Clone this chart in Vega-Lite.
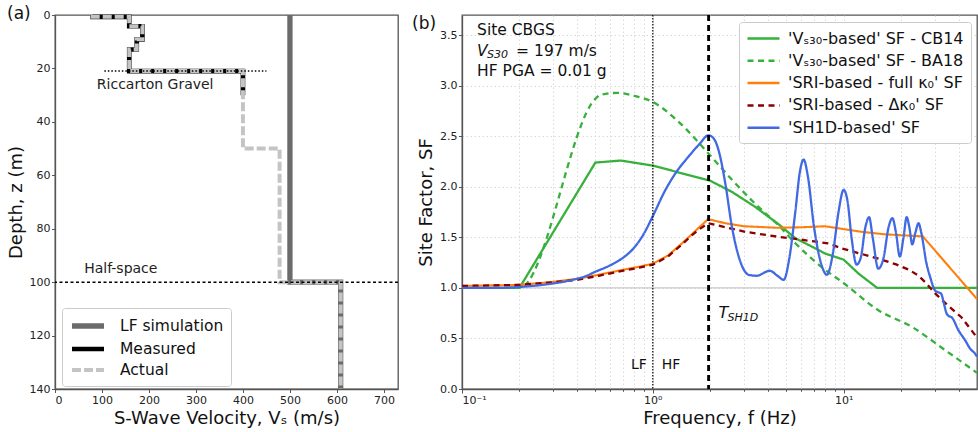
{
  "$schema": "https://vega.github.io/schema/vega-lite/v6.json",
  "padding": {"left": 6, "top": 3, "right": 0, "bottom": 0},
  "background": "white",
  "config": {
    "font": "DejaVu Sans",
    "view": {"stroke": "#555555", "strokeWidth": 1.3},
    "axis": {"domainColor": "#555555", "domainWidth": 1.3, "tickColor": "#555555", "tickWidth": 1, "tickSize": 3.5, "labelColor": "#222222", "labelFontSize": 11, "labelPadding": 1.5, "titleFontSize": 18, "titleFontWeight": "normal", "titleColor": "#111111", "grid": false},
    "title": {"fontSize": 17, "fontWeight": "normal", "anchor": "start", "frame": "group", "color": "#111111"},
    "legend": {"title": null, "orient": "none", "symbolType": "M-2,0H2", "symbolSize": 256, "symbolOffset": 8, "labelOffset": 21, "labelLimit": 400, "labelFontSize": 15.5, "labelColor": "#111111", "padding": 7, "rowPadding": 1.5, "strokeColor": "#cccccc", "fillColor": "#ffffff", "cornerRadius": 3}
  },
  "bounds": "flush",
  "spacing": 64,
  "resolve": {
    "scale": {"color": "independent", "strokeDash": "independent", "strokeWidth": "independent"},
    "legend": {"color": "independent", "strokeDash": "independent", "strokeWidth": "independent"}
  },
  "hconcat": [
    {
      "width": 343,
      "height": 374,
      "title": {"text": "(a)", "dx": -48, "offset": -19},
      "data": {"values": [
        {"s": "LF simulation", "vs": 500, "depth": 0, "i": 0},
        {"s": "LF simulation", "vs": 500, "depth": 100, "i": 1},
        {"s": "LF simulation", "vs": 608, "depth": 100, "i": 2},
        {"s": "LF simulation", "vs": 608, "depth": 140, "i": 3},
        {"s": "Measured", "vs": 80, "depth": 0, "i": 0},
        {"s": "Measured", "vs": 80, "depth": 0.7, "i": 1},
        {"s": "Measured", "vs": 158, "depth": 0.7, "i": 2},
        {"s": "Measured", "vs": 158, "depth": 4.2, "i": 3},
        {"s": "Measured", "vs": 186, "depth": 4.2, "i": 4},
        {"s": "Measured", "vs": 186, "depth": 9.1, "i": 5},
        {"s": "Measured", "vs": 174, "depth": 9.1, "i": 6},
        {"s": "Measured", "vs": 174, "depth": 12.9, "i": 7},
        {"s": "Measured", "vs": 158, "depth": 12.9, "i": 8},
        {"s": "Measured", "vs": 158, "depth": 21, "i": 9},
        {"s": "Measured", "vs": 400, "depth": 21, "i": 10},
        {"s": "Measured", "vs": 400, "depth": 30, "i": 11},
        {"s": "Actual", "vs": 80, "depth": 0, "i": 0},
        {"s": "Actual", "vs": 80, "depth": 0.7, "i": 1},
        {"s": "Actual", "vs": 158, "depth": 0.7, "i": 2},
        {"s": "Actual", "vs": 158, "depth": 4.2, "i": 3},
        {"s": "Actual", "vs": 186, "depth": 4.2, "i": 4},
        {"s": "Actual", "vs": 186, "depth": 9.1, "i": 5},
        {"s": "Actual", "vs": 174, "depth": 9.1, "i": 6},
        {"s": "Actual", "vs": 174, "depth": 12.9, "i": 7},
        {"s": "Actual", "vs": 158, "depth": 12.9, "i": 8},
        {"s": "Actual", "vs": 158, "depth": 21, "i": 9},
        {"s": "Actual", "vs": 400, "depth": 21, "i": 10},
        {"s": "Actual", "vs": 400, "depth": 50, "i": 11},
        {"s": "Actual", "vs": 478, "depth": 50, "i": 12},
        {"s": "Actual", "vs": 478, "depth": 100, "i": 13},
        {"s": "Actual", "vs": 608, "depth": 100, "i": 14},
        {"s": "Actual", "vs": 608, "depth": 140, "i": 15}
      ]},
      "layer": [
        {
          "encoding": {
            "x": {"field": "vs", "type": "quantitative", "scale": {"domain": [0, 730], "nice": false, "zero": false},
                  "axis": {"title": "S-Wave Velocity, Vₛ (m/s)", "values": [0, 100, 200, 300, 400, 500, 600, 700], "titlePadding": 4}},
            "y": {"field": "depth", "type": "quantitative", "scale": {"domain": [0, 140], "reverse": true, "nice": false},
                  "axis": {"title": "Depth, z (m)", "values": [0, 20, 40, 60, 80, 100, 120, 140], "titlePadding": 4}},
            "order": {"field": "i"},
            "color": {"field": "s", "type": "nominal",
                      "scale": {"domain": ["LF simulation", "Measured", "Actual"], "range": ["#6b6b6b", "#000000", "#c4c4c4"]},
                      "legend": {"legendX": 7, "legendY": 293}},
            "strokeDash": {"field": "s", "type": "nominal",
                      "scale": {"domain": ["LF simulation", "Measured", "Actual"], "range": [[1, 0], [1, 0], [9, 3]]},
                      "legend": {"legendX": 7, "legendY": 293}},
            "strokeWidth": {"field": "s", "type": "ordinal",
                      "scale": {"domain": ["LF simulation", "Measured", "Actual"], "range": [5.3, 4, 3.5]},
                      "legend": {"legendX": 7, "legendY": 293}}
          },
          "layer": [
            {"transform": [{"filter": "datum.s === 'LF simulation'"}], "mark": {"type": "line", "strokeCap": "butt"}},
            {"transform": [{"filter": "datum.s === 'Measured'"}], "mark": {"type": "line", "strokeCap": "butt"}},
            {"transform": [{"filter": "datum.s === 'Actual'"}], "mark": {"type": "line", "strokeCap": "butt"}}
          ]
        },
        {"data": {"values": [{}]},
         "mark": {"type": "rule", "color": "#000000", "strokeWidth": 1.5, "strokeDash": [3, 2.5]},
         "encoding": {"y": {"datum": 100, "type": "quantitative"}}},
        {"data": {"values": [{}]},
         "mark": {"type": "rule", "color": "#000000", "strokeWidth": 1.5, "strokeDash": [1.5, 2]},
         "encoding": {"y": {"datum": 21, "type": "quantitative"}, "x": {"datum": 105, "type": "quantitative"}, "x2": {"datum": 450}}},
        {"mark": {"type": "text", "align": "left", "baseline": "middle", "fontSize": 14, "color": "#222222"},
         "data": {"values": [{"vs": 89, "depth": 26.3, "t": "Riccarton Gravel"}, {"vs": 62, "depth": 95, "t": "Half-space"}]},
         "encoding": {"x": {"field": "vs", "type": "quantitative"}, "y": {"field": "depth", "type": "quantitative"}, "text": {"field": "t"}}}
      ]
    },
    {
      "width": 515,
      "height": 374,
      "title": {"text": "(b)", "dx": -50, "offset": -19},
      "data": {"values": [
        {"m": "CB14", "f": 0.1, "sf": 1.0}, {"m": "CB14", "f": 0.2, "sf": 1.0}, {"m": "CB14", "f": 0.5, "sf": 2.24},
        {"m": "CB14", "f": 0.68, "sf": 2.26}, {"m": "CB14", "f": 1.0, "sf": 2.21}, {"m": "CB14", "f": 2.0, "sf": 2.06},
        {"m": "CB14", "f": 2.6, "sf": 1.95}, {"m": "CB14", "f": 3.45, "sf": 1.8}, {"m": "CB14", "f": 4.56, "sf": 1.63},
        {"m": "CB14", "f": 5.6, "sf": 1.49}, {"m": "CB14", "f": 6.8, "sf": 1.41}, {"m": "CB14", "f": 8.0, "sf": 1.34},
        {"m": "CB14", "f": 10, "sf": 1.28}, {"m": "CB14", "f": 12, "sf": 1.14}, {"m": "CB14", "f": 15, "sf": 1.0},
        {"m": "CB14", "f": 50, "sf": 1.0},
        {"m": "BA18", "f": 0.1, "sf": 1.0}, {"m": "BA18", "f": 0.2, "sf": 1.0}, {"m": "BA18", "f": 0.5, "sf": 2.87},
        {"m": "BA18", "f": 0.53, "sf": 2.91}, {"m": "BA18", "f": 0.66, "sf": 2.93}, {"m": "BA18", "f": 0.8, "sf": 2.9},
        {"m": "BA18", "f": 1.0, "sf": 2.84}, {"m": "BA18", "f": 1.37, "sf": 2.64}, {"m": "BA18", "f": 2.0, "sf": 2.31},
        {"m": "BA18", "f": 2.6, "sf": 2.07}, {"m": "BA18", "f": 3.45, "sf": 1.83}, {"m": "BA18", "f": 4.5, "sf": 1.63},
        {"m": "BA18", "f": 5.6, "sf": 1.44}, {"m": "BA18", "f": 8.0, "sf": 1.18}, {"m": "BA18", "f": 9.8, "sf": 1.06},
        {"m": "BA18", "f": 15.2, "sf": 0.78}, {"m": "BA18", "f": 23, "sf": 0.61}, {"m": "BA18", "f": 34, "sf": 0.385},
        {"m": "BA18", "f": 50, "sf": 0.16},
        {"m": "SRIf", "f": 0.1, "sf": 1.02}, {"m": "SRIf", "f": 0.2, "sf": 1.03}, {"m": "SRIf", "f": 0.3, "sf": 1.06},
        {"m": "SRIf", "f": 0.4, "sf": 1.09}, {"m": "SRIf", "f": 0.52, "sf": 1.13}, {"m": "SRIf", "f": 0.7, "sf": 1.18},
        {"m": "SRIf", "f": 0.85, "sf": 1.21}, {"m": "SRIf", "f": 1.0, "sf": 1.24}, {"m": "SRIf", "f": 1.2, "sf": 1.32},
        {"m": "SRIf", "f": 1.42, "sf": 1.44}, {"m": "SRIf", "f": 1.6, "sf": 1.53}, {"m": "SRIf", "f": 1.75, "sf": 1.6},
        {"m": "SRIf", "f": 1.95, "sf": 1.68}, {"m": "SRIf", "f": 2.4, "sf": 1.64}, {"m": "SRIf", "f": 3.0, "sf": 1.61},
        {"m": "SRIf", "f": 4.5, "sf": 1.595}, {"m": "SRIf", "f": 6, "sf": 1.6}, {"m": "SRIf", "f": 8, "sf": 1.61},
        {"m": "SRIf", "f": 12.4, "sf": 1.555}, {"m": "SRIf", "f": 16.5, "sf": 1.53}, {"m": "SRIf", "f": 26, "sf": 1.51},
        {"m": "SRIf", "f": 50, "sf": 0.89},
        {"m": "SRId", "f": 0.1, "sf": 1.02}, {"m": "SRId", "f": 0.2, "sf": 1.03}, {"m": "SRId", "f": 0.3, "sf": 1.055},
        {"m": "SRId", "f": 0.4, "sf": 1.08}, {"m": "SRId", "f": 0.52, "sf": 1.12}, {"m": "SRId", "f": 0.7, "sf": 1.17},
        {"m": "SRId", "f": 0.85, "sf": 1.2}, {"m": "SRId", "f": 1.0, "sf": 1.23}, {"m": "SRId", "f": 1.2, "sf": 1.31},
        {"m": "SRId", "f": 1.42, "sf": 1.43}, {"m": "SRId", "f": 1.6, "sf": 1.52}, {"m": "SRId", "f": 1.75, "sf": 1.58},
        {"m": "SRId", "f": 1.95, "sf": 1.64}, {"m": "SRId", "f": 3.05, "sf": 1.555}, {"m": "SRId", "f": 4.57, "sf": 1.505},
        {"m": "SRId", "f": 5.35, "sf": 1.49}, {"m": "SRId", "f": 8.35, "sf": 1.44}, {"m": "SRId", "f": 9.8, "sf": 1.39},
        {"m": "SRId", "f": 15.2, "sf": 1.29}, {"m": "SRId", "f": 19, "sf": 1.23}, {"m": "SRId", "f": 22, "sf": 1.18},
        {"m": "SRId", "f": 24.7, "sf": 1.12}, {"m": "SRId", "f": 27, "sf": 1.05}, {"m": "SRId", "f": 30, "sf": 0.95},
        {"m": "SRId", "f": 35, "sf": 0.83}, {"m": "SRId", "f": 41.4, "sf": 0.71}, {"m": "SRId", "f": 50, "sf": 0.51},
        {"m": "SH1D", "f": 0.1, "sf": 1.0}, {"m": "SH1D", "f": 0.15, "sf": 1.0}, {"m": "SH1D", "f": 0.2, "sf": 1.01},
        {"m": "SH1D", "f": 0.25, "sf": 1.025}, {"m": "SH1D", "f": 0.3, "sf": 1.044}, {"m": "SH1D", "f": 0.35, "sf": 1.065},
        {"m": "SH1D", "f": 0.4, "sf": 1.09}, {"m": "SH1D", "f": 0.45, "sf": 1.12}, {"m": "SH1D", "f": 0.5, "sf": 1.16},
        {"m": "SH1D", "f": 0.6, "sf": 1.225}, {"m": "SH1D", "f": 0.7, "sf": 1.3}, {"m": "SH1D", "f": 0.8, "sf": 1.4},
        {"m": "SH1D", "f": 0.9, "sf": 1.54}, {"m": "SH1D", "f": 1.0, "sf": 1.71}, {"m": "SH1D", "f": 1.15, "sf": 1.95},
        {"m": "SH1D", "f": 1.31, "sf": 2.13}, {"m": "SH1D", "f": 1.54, "sf": 2.3}, {"m": "SH1D", "f": 1.75, "sf": 2.42},
        {"m": "SH1D", "f": 1.96, "sf": 2.51}, {"m": "SH1D", "f": 2.1, "sf": 2.47}, {"m": "SH1D", "f": 2.22, "sf": 2.35},
        {"m": "SH1D", "f": 2.4, "sf": 2.03}, {"m": "SH1D", "f": 2.6, "sf": 1.6}, {"m": "SH1D", "f": 2.82, "sf": 1.31},
        {"m": "SH1D", "f": 3.18, "sf": 1.13}, {"m": "SH1D", "f": 3.5, "sf": 1.12}, {"m": "SH1D", "f": 4.1, "sf": 1.17},
        {"m": "SH1D", "f": 4.5, "sf": 1.12}, {"m": "SH1D", "f": 4.85, "sf": 1.08}, {"m": "SH1D", "f": 5.2, "sf": 1.3},
        {"m": "SH1D", "f": 5.58, "sf": 1.75}, {"m": "SH1D", "f": 5.9, "sf": 2.15}, {"m": "SH1D", "f": 6.17, "sf": 2.27},
        {"m": "SH1D", "f": 6.5, "sf": 2.1}, {"m": "SH1D", "f": 7.0, "sf": 1.6}, {"m": "SH1D", "f": 7.6, "sf": 1.25},
        {"m": "SH1D", "f": 8.17, "sf": 1.13}, {"m": "SH1D", "f": 8.8, "sf": 1.35}, {"m": "SH1D", "f": 9.4, "sf": 1.75},
        {"m": "SH1D", "f": 10.0, "sf": 1.97}, {"m": "SH1D", "f": 10.5, "sf": 1.85}, {"m": "SH1D", "f": 11.0, "sf": 1.5},
        {"m": "SH1D", "f": 11.7, "sf": 1.23}, {"m": "SH1D", "f": 12.3, "sf": 1.3}, {"m": "SH1D", "f": 13.0, "sf": 1.6},
        {"m": "SH1D", "f": 13.6, "sf": 1.7}, {"m": "SH1D", "f": 14.2, "sf": 1.5}, {"m": "SH1D", "f": 15.2, "sf": 1.19},
        {"m": "SH1D", "f": 16.2, "sf": 1.3}, {"m": "SH1D", "f": 17.2, "sf": 1.6}, {"m": "SH1D", "f": 18.0, "sf": 1.69},
        {"m": "SH1D", "f": 18.8, "sf": 1.55}, {"m": "SH1D", "f": 19.7, "sf": 1.31}, {"m": "SH1D", "f": 20.6, "sf": 1.5},
        {"m": "SH1D", "f": 21.4, "sf": 1.7}, {"m": "SH1D", "f": 22.1, "sf": 1.6}, {"m": "SH1D", "f": 22.9, "sf": 1.43},
        {"m": "SH1D", "f": 23.8, "sf": 1.55}, {"m": "SH1D", "f": 24.7, "sf": 1.64}, {"m": "SH1D", "f": 25.5, "sf": 1.55},
        {"m": "SH1D", "f": 27.2, "sf": 1.24}, {"m": "SH1D", "f": 28.5, "sf": 1.1}, {"m": "SH1D", "f": 30, "sf": 0.98},
        {"m": "SH1D", "f": 31, "sf": 0.96}, {"m": "SH1D", "f": 32.4, "sf": 0.945}, {"m": "SH1D", "f": 33.5, "sf": 0.85},
        {"m": "SH1D", "f": 34.6, "sf": 0.75}, {"m": "SH1D", "f": 35.7, "sf": 0.72}, {"m": "SH1D", "f": 36.8, "sf": 0.71},
        {"m": "SH1D", "f": 40, "sf": 0.58}, {"m": "SH1D", "f": 43.4, "sf": 0.48}, {"m": "SH1D", "f": 46, "sf": 0.4},
        {"m": "SH1D", "f": 48.8, "sf": 0.35}, {"m": "SH1D", "f": 50, "sf": 0.32}
      ]},
      "layer": [
        {"data": {"values": [{}]},
         "mark": {"type": "rule", "color": "#c8c8c8", "strokeWidth": 1.2},
         "encoding": {"y": {"datum": 1, "type": "quantitative"}}},
        {
          "encoding": {
            "x": {"field": "f", "type": "quantitative", "scale": {"type": "log", "domain": [0.1, 50], "nice": false},
                  "axis": {"title": "Frequency, f (Hz)", "titlePadding": 4,
                           "values": [0.1, 0.2, 0.3, 0.4, 0.5, 0.6, 0.7, 0.8, 0.9, 1, 2, 3, 4, 5, 6, 7, 8, 9, 10, 20, 30, 40],
                           "labelOverlap": false,
                           "labelExpr": "abs(datum.value-0.1)<1e-6 ? '10⁻¹' : (abs(datum.value-1)<1e-6 ? '10⁰' : (abs(datum.value-10)<1e-6 ? '10¹' : ''))",
                           "tickSize": {"condition": {"test": "abs(datum.value-0.1)<1e-6 || abs(datum.value-1)<1e-6 || abs(datum.value-10)<1e-6", "value": 4}, "value": 2.3},
                           "grid": true, "gridColor": "#d0d0d0", "gridDash": [1.5, 2.5], "gridWidth": 0.8}},
            "y": {"field": "sf", "type": "quantitative", "scale": {"domain": [0, 3.7], "nice": false},
                  "axis": {"title": "Site Factor, SF", "titlePadding": 4, "values": [0, 0.5, 1, 1.5, 2, 2.5, 3, 3.5], "format": ".1f",
                           "grid": true, "gridColor": "#d0d0d0", "gridDash": [1.5, 2.5], "gridWidth": 0.8}},
            "color": {"field": "m", "type": "nominal",
                      "scale": {"domain": ["CB14", "BA18", "SRIf", "SRId", "SH1D"], "range": ["#37b03c", "#37b03c", "#ff7f0e", "#8b0000", "#4169e1"]},
                      "legend": {"legendX": 277, "legendY": 7, "symbolStrokeWidth": 2.5, "labelOffset": 15, "labelFontSize": 16, "rowPadding": 4.3,
                                 "labelExpr": "datum.label == 'CB14' ? \"'Vₛ₃₀-based' SF - CB14\" : (datum.label == 'BA18' ? \"'Vₛ₃₀-based' SF - BA18\" : (datum.label == 'SRIf' ? \"'SRI-based - full κ₀' SF\" : (datum.label == 'SRId' ? \"'SRI-based - Δκ₀' SF\" : \"'SH1D-based' SF\")))"}},
            "strokeDash": {"field": "m", "type": "nominal",
                      "scale": {"domain": ["CB14", "BA18", "SRIf", "SRId", "SH1D"], "range": [[1, 0], [6, 4.5], [1, 0], [6, 4.5], [1, 0]]},
                      "legend": {"legendX": 277, "legendY": 7, "symbolStrokeWidth": 2.5, "labelOffset": 15, "labelFontSize": 16, "rowPadding": 4.3,
                                 "labelExpr": "datum.label == 'CB14' ? \"'Vₛ₃₀-based' SF - CB14\" : (datum.label == 'BA18' ? \"'Vₛ₃₀-based' SF - BA18\" : (datum.label == 'SRIf' ? \"'SRI-based - full κ₀' SF\" : (datum.label == 'SRId' ? \"'SRI-based - Δκ₀' SF\" : \"'SH1D-based' SF\")))"}}
          },
          "layer": [
            {"transform": [{"filter": "datum.m === 'CB14'"}], "mark": {"type": "line", "strokeWidth": 2.3, "interpolate": "linear"}},
            {"transform": [{"filter": "datum.m === 'BA18'"}], "mark": {"type": "line", "strokeWidth": 2.3, "interpolate": "monotone"}},
            {"transform": [{"filter": "datum.m === 'SRIf'"}], "mark": {"type": "line", "strokeWidth": 2.1, "interpolate": "linear"}},
            {"transform": [{"filter": "datum.m === 'SRId'"}], "mark": {"type": "line", "strokeWidth": 2.3, "interpolate": "linear"}},
            {"transform": [{"filter": "datum.m === 'SH1D'"}], "mark": {"type": "line", "strokeWidth": 2.3, "interpolate": "monotone"}}
          ]
        },
        {"data": {"values": [{}]},
         "mark": {"type": "rule", "color": "#000000", "strokeWidth": 1.2, "strokeDash": [1.5, 1.5]},
         "encoding": {"x": {"datum": 1, "type": "quantitative"}}},
        {"data": {"values": [{}]},
         "mark": {"type": "rule", "color": "#000000", "strokeWidth": 2.8, "strokeDash": [6, 4]},
         "encoding": {"x": {"datum": 1.96, "type": "quantitative"}}},
        {"mark": {"type": "text", "align": "left", "baseline": "middle", "fontSize": 15.5, "color": "#111111"},
         "data": {"values": [{"f": 0.12, "sf": 3.55, "t": "Site CBGS"}, {"f": 0.12, "sf": 3.145, "t": "HF PGA = 0.01 g"}]},
         "encoding": {"x": {"field": "f", "type": "quantitative"}, "y": {"field": "sf", "type": "quantitative"}, "text": {"field": "t"}}},
        {"data": {"values": [{}]},
         "mark": {"type": "text", "align": "left", "baseline": "middle", "fontSize": 15.5, "fontStyle": "italic", "color": "#111111", "text": "V"},
         "encoding": {"x": {"datum": 0.12, "type": "quantitative"}, "y": {"datum": 3.345, "type": "quantitative"}}},
        {"data": {"values": [{}]},
         "mark": {"type": "text", "align": "left", "baseline": "middle", "fontSize": 11, "fontStyle": "italic", "color": "#111111", "text": "S30", "dx": 10, "dy": 4},
         "encoding": {"x": {"datum": 0.12, "type": "quantitative"}, "y": {"datum": 3.345, "type": "quantitative"}}},
        {"data": {"values": [{}]},
         "mark": {"type": "text", "align": "left", "baseline": "middle", "fontSize": 15.5, "color": "#111111", "text": "= 197 m/s", "dx": 39},
         "encoding": {"x": {"datum": 0.12, "type": "quantitative"}, "y": {"datum": 3.345, "type": "quantitative"}}},
        {"data": {"values": [{}]},
         "mark": {"type": "text", "align": "right", "baseline": "middle", "fontSize": 14, "color": "#111111", "text": "LF", "dx": -6},
         "encoding": {"x": {"datum": 1, "type": "quantitative"}, "y": {"datum": 0.24, "type": "quantitative"}}},
        {"data": {"values": [{}]},
         "mark": {"type": "text", "align": "left", "baseline": "middle", "fontSize": 14, "color": "#111111", "text": "HF", "dx": 9},
         "encoding": {"x": {"datum": 1, "type": "quantitative"}, "y": {"datum": 0.24, "type": "quantitative"}}},
        {"data": {"values": [{}]},
         "mark": {"type": "text", "align": "left", "baseline": "middle", "fontSize": 16, "fontStyle": "italic", "color": "#111111", "text": "T"},
         "encoding": {"x": {"datum": 2.21, "type": "quantitative"}, "y": {"datum": 0.75, "type": "quantitative"}}},
        {"data": {"values": [{}]},
         "mark": {"type": "text", "align": "left", "baseline": "middle", "fontSize": 11, "fontStyle": "italic", "color": "#111111", "text": "SH1D", "dx": 9, "dy": 5},
         "encoding": {"x": {"datum": 2.21, "type": "quantitative"}, "y": {"datum": 0.75, "type": "quantitative"}}}
      ]
    }
  ]
}
